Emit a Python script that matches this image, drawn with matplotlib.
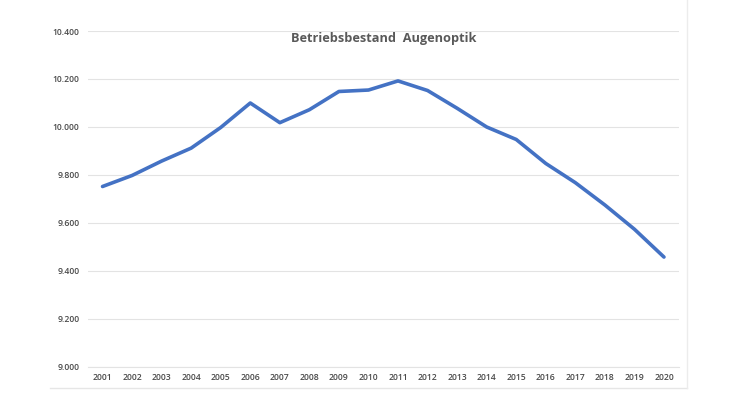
import matplotlib
matplotlib.use("Agg")
import matplotlib.pyplot as plt
from matplotlib.ticker import FuncFormatter
from matplotlib.lines import Line2D

# Betriebsbestand Augenoptik, 2001-2020
years = ['2001', '2002', '2003', '2004', '2005', '2006', '2007', '2008', '2009', '2010',
         '2011', '2012', '2013', '2014', '2015', '2016', '2017', '2018', '2019', '2020']
betriebe = [9752, 9798, 9858, 9912, 9998, 10100, 10018, 10072, 10148, 10154,
            10192, 10152, 10078, 10000, 9948, 9848, 9768, 9675, 9574, 9458]

plt.rcParams['font.family'] = ['Open Sans', 'DejaVu Sans']

fig = plt.figure(figsize=(7.5, 3.95), dpi=100)
ax = fig.add_axes([0.117, 0.071, 0.788, 0.8505])

x = list(range(len(years)))
ax.plot(x, betriebe, color='#4472C4', linewidth=2.6, solid_capstyle='round', zorder=3)

ax.set_xlim(-0.5, len(years) - 0.5)
ax.set_ylim(9000, 10400)
ax.set_yticks(range(9000, 10401, 200))
ax.yaxis.set_major_formatter(FuncFormatter(lambda v, p: f"{int(v):,}".replace(',', '.')))
ax.set_xticks(x)
ax.set_xticklabels(years)

ax.grid(axis='y', color='#e3e3e3', linewidth=0.8)
ax.set_axisbelow(True)
for s in ax.spines.values():
    s.set_visible(False)
ax.spines['bottom'].set_visible(True)
ax.spines['bottom'].set_color('#e3e3e3')
ax.spines['bottom'].set_linewidth(0.8)
ax.tick_params(axis='both', length=0, labelsize=6.2, labelcolor='#4a4a4a')
ax.tick_params(axis='x', pad=4.5)
ax.tick_params(axis='y', pad=6)
for lbl in ax.get_xticklabels() + ax.get_yticklabels():
    lbl.set_fontweight('semibold')

fig.text(0.511, 0.902, 'Betriebsbestand  Augenoptik', ha='center', va='center',
         fontsize=9.2, color='#595959', fontweight='bold')

# faint chart-area border (right and bottom)
fig.add_artist(Line2D([0.067, 0.916], [0.018, 0.018], color='#e6e6e6', linewidth=1.0))
fig.add_artist(Line2D([0.916, 0.916], [0.018, 1.0], color='#ececec', linewidth=1.0))

fig.savefig('out.png', dpi=100, facecolor='white')
